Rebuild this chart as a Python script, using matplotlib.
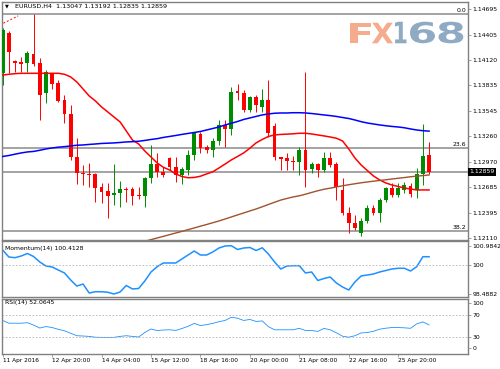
import matplotlib
matplotlib.use('Agg')
import matplotlib.pyplot as plt
from matplotlib.textpath import TextPath
from matplotlib.patches import PathPatch
from matplotlib.transforms import Affine2D
from matplotlib.font_manager import FontProperties

# ================= data: EURUSD H4, 70 bars =================
opens = [1.13976, 1.14427, 1.14111, 1.14097, 1.14085, 1.14190, 1.14085, 1.13747, 1.13965, 1.13860,
         1.13671, 1.13513, 1.13031, 1.12843, 1.12836, 1.12832, 1.12692, 1.12644, 1.12595, 1.12624,
         1.12666, 1.12663, 1.12598, 1.12587, 1.12787, 1.12948, 1.12862, 1.13013, 1.12918, 1.12824,
         1.12881, 1.13050, 1.13287, 1.13137, 1.13107, 1.13211, 1.13389, 1.13340, 1.13773, 1.13753,
         1.13558, 1.13701, 1.13595, 1.13671, 1.13380, 1.13024, 1.13013, 1.12986, 1.12974, 1.13107,
         1.12889, 1.12945, 1.12881, 1.13013, 1.12948, 1.12655, 1.12392, 1.12279, 1.12173, 1.12308,
         1.12448, 1.12392, 1.12542, 1.12674, 1.12598, 1.12655, 1.12700, 1.12655, 1.12836, 1.13047]
highs = [1.14484, 1.14453, 1.14123, 1.14160, 1.14228, 1.14642, 1.14142, 1.14010, 1.13979, 1.13897,
         1.13727, 1.13615, 1.13242, 1.12937, 1.12960, 1.12843, 1.12731, 1.12731, 1.12948, 1.12757,
         1.12692, 1.12685, 1.12692, 1.12805, 1.13163, 1.13069, 1.12918, 1.13031, 1.13031, 1.12918,
         1.13107, 1.13313, 1.13313, 1.13163, 1.13239, 1.13445, 1.13445, 1.13821, 1.13852, 1.13784,
         1.13716, 1.13727, 1.13792, 1.13897, 1.13408, 1.13031, 1.13069, 1.13042, 1.13137, 1.13990,
         1.12974, 1.12963, 1.13087, 1.13087, 1.12974, 1.12787, 1.12466, 1.12373, 1.12335, 1.12486,
         1.12486, 1.12561, 1.12692, 1.12731, 1.12731, 1.12749, 1.12731, 1.12903, 1.13400, 1.13192]
lows = [1.13840, 1.13976, 1.13990, 1.13990, 1.13990, 1.14055, 1.13445, 1.13641, 1.13792, 1.13652,
        1.13411, 1.12994, 1.12723, 1.12711, 1.12692, 1.12523, 1.12512, 1.12335, 1.12486, 1.12466,
        1.12523, 1.12486, 1.12550, 1.12460, 1.12731, 1.12805, 1.12805, 1.12881, 1.12749, 1.12723,
        1.12824, 1.12994, 1.13076, 1.13069, 1.13024, 1.13163, 1.13144, 1.13276, 1.13671, 1.13539,
        1.13539, 1.13539, 1.13539, 1.13253, 1.12994, 1.12881, 1.12881, 1.12881, 1.12824, 1.12692,
        1.12843, 1.12805, 1.12858, 1.12918, 1.12542, 1.12373, 1.12173, 1.12203, 1.12136, 1.12279,
        1.12373, 1.12297, 1.12523, 1.12579, 1.12579, 1.12618, 1.12579, 1.12565, 1.12711, 1.12835]
closes = [1.14461, 1.14216, 1.14092, 1.14077, 1.14198, 1.14077, 1.13727, 1.13990, 1.13852, 1.13663,
          1.13513, 1.13031, 1.12843, 1.12832, 1.12824, 1.12674, 1.12636, 1.12591, 1.12624, 1.12666,
          1.12655, 1.12591, 1.12587, 1.12787, 1.12948, 1.12862, 1.12824, 1.12918, 1.12824, 1.12889,
          1.13050, 1.13295, 1.13126, 1.13107, 1.13211, 1.13389, 1.13340, 1.13765, 1.13753, 1.13558,
          1.13701, 1.13615, 1.13671, 1.13295, 1.13031, 1.13005, 1.12986, 1.12974, 1.13107, 1.12881,
          1.12945, 1.12881, 1.13013, 1.12937, 1.12692, 1.12399, 1.12279, 1.12225, 1.12308, 1.12448,
          1.12392, 1.12542, 1.12674, 1.12598, 1.12674, 1.12711, 1.12610, 1.12836, 1.13039, 1.12859]

ma_red = [1.13953, 1.13961, 1.13968, 1.13972, 1.13972, 1.13972, 1.13972, 1.13972, 1.13972, 1.13972,
          1.13961, 1.13931, 1.13874, 1.13795, 1.13716, 1.13660, 1.13592, 1.13536, 1.13479, 1.13423,
          1.13321, 1.13219, 1.13174, 1.13095, 1.13027, 1.12960, 1.12911, 1.12881, 1.12836, 1.12807,
          1.12793, 1.12796, 1.12810, 1.12836, 1.12860, 1.12903, 1.12948, 1.12994, 1.13033, 1.13073,
          1.13126, 1.13186, 1.13225, 1.13259, 1.13276, 1.13282, 1.13285, 1.13289, 1.13295, 1.13295,
          1.13287, 1.13276, 1.13265, 1.13253, 1.13239, 1.13208, 1.13118, 1.13016, 1.12937, 1.12875,
          1.12813, 1.12768, 1.12734, 1.12711, 1.12694, 1.12677, 1.12666, 1.12655, 1.12655, 1.12655]
ma_blue = [1.13033, 1.13044, 1.13059, 1.13073, 1.13084, 1.13090, 1.13103, 1.13118, 1.13129, 1.13138,
           1.13144, 1.13152, 1.13160, 1.13163, 1.13169, 1.13174, 1.13180, 1.13183, 1.13186, 1.13191,
           1.13197, 1.13200, 1.13205, 1.13214, 1.13225, 1.13234, 1.13248, 1.13259, 1.13270, 1.13282,
           1.13293, 1.13304, 1.13315, 1.13332, 1.13349, 1.13366, 1.13389, 1.13408, 1.13428, 1.13451,
           1.13468, 1.13485, 1.13502, 1.13513, 1.13521, 1.13524, 1.13524, 1.13527, 1.13527, 1.13524,
           1.13518, 1.13510, 1.13502, 1.13494, 1.13485, 1.13473, 1.13462, 1.13445, 1.13426, 1.13411,
           1.13400, 1.13389, 1.13380, 1.13372, 1.13366, 1.13357, 1.13344, 1.13332, 1.13324, 1.13319]
# slow MA only enters the window from bar 22 on
brown_first_bar = 22
ma_brown = [1.12057, 1.12075, 1.12094, 1.12113, 1.12131, 1.12150, 1.12169, 1.12187,
            1.12207, 1.12226, 1.12246, 1.12265, 1.12285, 1.12305, 1.12327, 1.12350, 1.12373, 1.12395,
            1.12418, 1.12440, 1.12465, 1.12491, 1.12516, 1.12541, 1.12559, 1.12576, 1.12589, 1.12607,
            1.12627, 1.12646, 1.12663, 1.12675, 1.12689, 1.12702, 1.12714, 1.12725, 1.12736, 1.12745,
            1.12754, 1.12762, 1.12770, 1.12779, 1.12787, 1.12795, 1.12804, 1.12811, 1.12817, 1.12824]

momentum = [100.762, 100.400, 100.364, 100.452, 100.581, 100.426, 100.142, 99.935, 99.883, 99.728,
            99.573, 99.211, 98.898, 99.002, 98.537, 98.606, 98.601, 98.580, 98.488, 98.591,
            98.927, 98.746, 98.772, 99.159, 99.624, 99.899, 100.090, 100.090, 100.090, 100.297,
            100.503, 100.710, 100.503, 100.503, 100.659, 100.865, 100.969, 100.984, 100.788, 100.865,
            100.891, 100.736, 100.876, 100.555, 100.142, 99.780, 99.935, 99.950, 99.950, 99.573,
            99.624, 99.185, 99.288, 99.366, 99.056, 98.849, 98.694, 99.108, 99.418, 99.469,
            99.521, 99.624, 99.702, 99.780, 99.816, 99.816, 99.676, 99.899, 100.416, 100.4128]
rsi = [60.1, 55.1, 55.1, 55.1, 56.0, 51.7, 46.3, 49.0, 47.2, 44.0,
       41.3, 36.8, 32.3, 31.8, 31.1, 29.6, 29.3, 29.3, 29.3, 31.1,
       32.3, 31.1, 30.0, 38.3, 44.5, 41.8, 42.7, 43.1, 42.0, 45.4,
       49.4, 54.8, 50.8, 52.4, 54.8, 57.8, 60.1, 65.9, 64.1, 60.1,
       61.9, 58.3, 59.2, 48.8, 43.1, 43.1, 43.1, 43.1, 45.8, 41.8,
       41.8, 40.2, 45.6, 43.1, 37.7, 31.4, 29.6, 32.3, 37.4, 38.1,
       40.4, 44.2, 46.0, 47.2, 47.2, 46.7, 45.8, 53.9, 57.4, 52.0645]

price_ticks = [1.14695, 1.14405, 1.14120, 1.13835, 1.13545, 1.13260, 1.12970, 1.12685, 1.12395, 1.12110]
fib_levels = [1.14645, 1.13132, 1.12195]
fib_names = ['0.0', '23.6', '38.2']
fib_anchor_x = [-0.45, 2.5]
fib_anchor_y = [1.14518, 1.14620]
bid = 1.12859
mom_max, mom_min = 100.9842, 98.4882
time_bars = [0, 8, 16, 24, 32, 40, 48, 56, 64]
time_labels = ['11 Apr 2016', '12 Apr 20:00', '14 Apr 04:00', '15 Apr 12:00', '18 Apr 16:00',
               '20 Apr 00:00', '21 Apr 08:00', '22 Apr 16:00', '25 Apr 20:00']

# ================= figure =================
W, H = 500, 369
plt.rcParams['font.family'] = 'DejaVu Sans'
fig = plt.figure(figsize=(W / 100, H / 100), dpi=100)
fig.patch.set_facecolor('white')


def box(x0, y0, x1, y1):
    # pixel box (top-left origin) -> figure fraction
    return [x0 / W, 1 - y1 / H, (x1 - x0) / W, (y1 - y0) / H]


ax = fig.add_axes(box(2, 2, 468, 240))
ax_mom = fig.add_axes(box(2, 241, 468, 297), sharex=ax)
ax_rsi = fig.add_axes(box(2, 298.5, 468, 353.5), sharex=ax)

FS = 4.4
frame = '#808080'
for a in (ax, ax_mom, ax_rsi):
    for s in a.spines.values():
        s.set_color(frame)
        s.set_linewidth(1.0)
    a.yaxis.tick_right()
    a.tick_params(axis='y', direction='out', length=2, width=0.5, colors=frame,
                  labelcolor='black', labelsize=FS, pad=1.2)
    a.tick_params(axis='x', bottom=False, labelbottom=False)

# ---- candles ----
bars = list(range(len(opens)))
for i in bars:
    o, h, l, c = opens[i], highs[i], lows[i], closes[i]
    col = '#008c00' if c > o else '#ff0000'
    ax.vlines(i, l, h, color=col, lw=0.7, zorder=3)
    lo, hi = min(o, c), max(o, c)
    ax.bar(i, max(hi - lo, 0.00003), bottom=lo, width=0.62, color=col, lw=0, zorder=4)

ax.plot(bars, ma_red, color='#ff0000', lw=1.1, zorder=5)
ax.plot(bars, ma_blue, color='#0000ff', lw=1.1, zorder=5)
ax.plot(range(brown_first_bar, brown_first_bar + len(ma_brown)), ma_brown,
        color='#a0522d', lw=1.0, zorder=5)

# fibonacci levels + bid line
for lvl, name in zip(fib_levels, fib_names):
    ax.axhline(lvl, color='#8a8a8a', lw=1.1, zorder=2)
    ax.annotate(name, xy=(1.0, lvl), xycoords=ax.get_yaxis_transform(),
                xytext=(-1.5, 0.8), textcoords='offset points', ha='right', va='bottom',
                fontsize=FS)
ax.plot(fib_anchor_x, fib_anchor_y, color='#ff0000', lw=0.7, ls=(0, (2, 2)), zorder=5)
ax.axhline(bid, color='#8a8a8a', lw=1.1, zorder=2)
ax.text(1.003, bid, f'{bid:.5f}', transform=ax.get_yaxis_transform(), color='white',
        fontsize=FS, va='center', ha='left',
        bbox=dict(facecolor='black', edgecolor='none', pad=1.0))

ax.set_xlim(-0.11, 75.3)
ax.set_ylim(1.12090, 1.14777)
ax.set_yticks(price_ticks)
ax.set_yticklabels([f'{p:.5f}' for p in price_ticks])

ax.text(0.006, 0.983, '\u25bc', transform=ax.transAxes, fontsize=3.6, va='center', ha='left')
ax.text(0.028, 0.981, 'EURUSD,H4  %.5f %.5f %.5f %.5f' % (opens[-1], highs[-1], lows[-1], closes[-1]),
        transform=ax.transAxes, fontsize=4.6, va='center', ha='left')

# ---- FX168 watermark ----
fp = FontProperties(family='DejaVu Sans', weight='bold')
px = Affine2D().scale(1 / W, 1 / H) + fig.transFigure
marks = [('F', 350, 370.5, 22.7, 43.3, '#f5ab8e'), ('X', 372, 393, 22.7, 43.3, '#f5ab8e'),
         ('1', 395, 406.5, 21.7, 43.3, '#8fabc4'), ('6', 410, 435, 21.7, 43.3, '#8fabc4'),
         ('8', 438.5, 463.3, 21.7, 43.3, '#8fabc4')]
for ch, x0, x1, y0, y1, col in marks:
    tp = TextPath((0, 0), ch, size=1, prop=fp)
    ext = tp.get_extents()
    tr = (Affine2D().translate(-ext.x0, -ext.y0)
          .scale((x1 - x0) / ext.width, (y1 - y0) / ext.height)
          .translate(x0, H - y1))
    fig.add_artist(PathPatch(tr.transform_path(tp), facecolor=col, lw=0, transform=px, zorder=1))

# ---- momentum ----
ax_mom.plot(bars, momentum, color='#1e90ff', lw=1.1)
ax_mom.axhline(100, color='#b4b4b4', lw=0.6, ls=(0, (2, 2)))
ax_mom.set_ylim(98.332, 101.227)
ax_mom.set_yticks([mom_max, 100, mom_min])
ax_mom.set_yticklabels(['%.4f' % mom_max, '100', '%.4f' % mom_min])
ax_mom.text(0.006, 0.86, 'Momentum(14) %.4f' % momentum[-1], transform=ax_mom.transAxes,
            fontsize=FS, va='center')

# ---- RSI ----
ax_rsi.plot(bars, rsi, color='#1e90ff', lw=0.6)
for lvl in (70, 30):
    ax_rsi.axhline(lvl, color='#b4b4b4', lw=0.6, ls=(0, (2, 2)))
ax_rsi.set_ylim(0, 100)
ax_rsi.set_yticks([9.5, 30, 70, 91.3])
ax_rsi.set_yticklabels(['0', '30', '70', '100'])
ax_rsi.text(0.006, 0.92, 'RSI(14) %.4f' % rsi[-1], transform=ax_rsi.transAxes,
            fontsize=FS, va='center')

ax_rsi.tick_params(axis='x', bottom=True, labelbottom=True, direction='out', length=2,
                   width=0.5, colors=frame, labelcolor='black', labelsize=4.2, pad=1.5)
ax_rsi.set_xticks(time_bars)
ax_rsi.set_xticklabels(time_labels)
for lbl in ax_rsi.get_xticklabels():
    lbl.set_horizontalalignment('left')

fig.savefig('out.png', dpi=100)
